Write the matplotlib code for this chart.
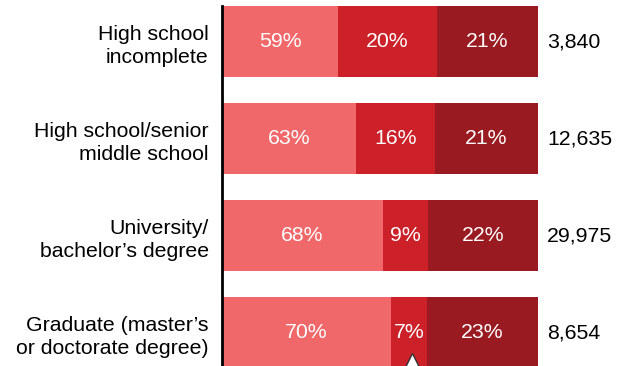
import numpy as np
import matplotlib.pyplot as plt

plt.rcParams['font.family'] = ['Liberation Sans', 'DejaVu Sans']

categories = ['High school\nincomplete',
              'High school/senior\nmiddle school',
              'University/\nbachelor\u2019s degree',
              'Graduate (master\u2019s\nor doctorate degree)']
share_low = [59.2, 62.9, 68.3, 70.0]
share_mid = [20.2, 16.1, 9.3, 7.4]
share_high = [20.6, 21.0, 22.4, 22.6]
sample_sizes = [3840, 12635, 29975, 8654]
marker_value = 74.3

colors = ['#f0686a', '#cc2129', '#991a20']
x_min, x_max = 35.5, 100
fs = 15.3

fig = plt.figure(figsize=(6.23, 3.66), dpi=100)
ax = fig.add_axes([222 / 623, 0, (538 - 222) / 623, 1])

y = np.arange(len(categories))
bar_h = 0.73
left = np.zeros(len(categories))
for vals, col in zip([share_low, share_mid, share_high], colors):
    vals = np.array(vals, dtype=float)
    ax.barh(y, vals, left=left, height=bar_h, color=col, linewidth=0)
    for yi, l, v in zip(y, left, vals):
        lo = max(l, x_min)
        ax.text((lo + l + v) / 2, yi, f'{v:.0f}%', ha='center', va='center',
                color='white', fontsize=fs)
    left += vals

for yi, n in zip(y, sample_sizes):
    ax.annotate(f'{n:,}', xy=(x_max, yi), xytext=(6.5, 0), textcoords='offset points',
                ha='left', va='center', fontsize=fs, annotation_clip=False)

# pointer below the last row
ax.plot([marker_value], [3.314], marker='^', markersize=14.5, color='white',
        markeredgecolor='#333333', markeredgewidth=1.0, clip_on=False, zorder=5)

ax.set_xlim(x_min, x_max)
ax.set_ylim(3.345, -0.428)
ax.set_yticks(y)
ax.set_yticklabels(categories, fontsize=fs, linespacing=1.28)
ax.tick_params(axis='y', length=0, pad=9.5)
ax.set_xticks([])
for s in ['top', 'right', 'bottom']:
    ax.spines[s].set_visible(False)
ax.spines['left'].set_linewidth(2.0)
ax.spines['left'].set_bounds(-0.365, 3.345)

fig.savefig('out.png', dpi=100)
